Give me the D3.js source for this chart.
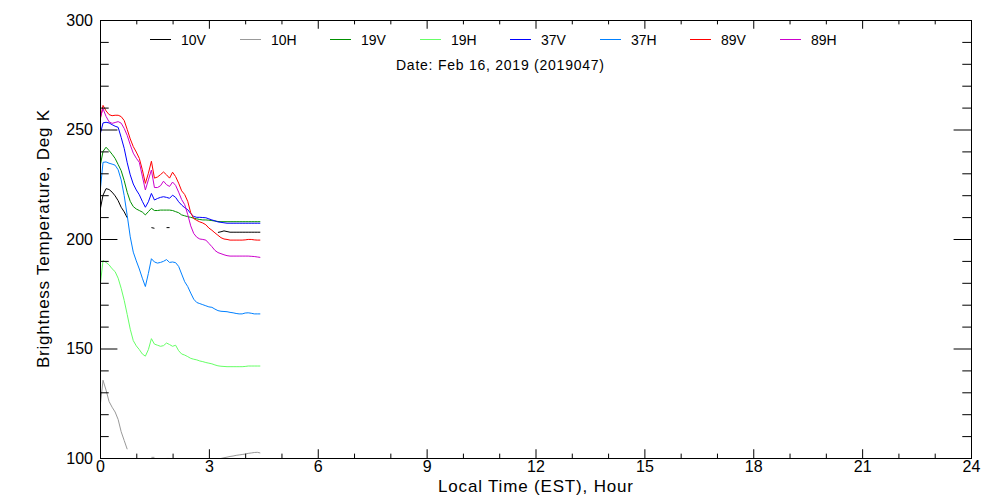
<!DOCTYPE html>
<html>
<head>
<meta charset="utf-8">
<script src="https://cdn.jsdelivr.net/npm/d3@7"></script>
<style>
  body { margin: 0; background: #fff; }
  svg { display: block; }
  text { font-family: "Liberation Sans", Arial, sans-serif; fill: #000; }
</style>
</head>
<body>
<svg id="chart" width="1000" height="500"></svg>
<script>
// channel names + colours
const channels = ["10V", "10H", "19V", "19H", "37V", "37H", "89V", "89H"]
const colors = ["#000000", "#999999", "#009000", "#66ff66", "#0000ff", "#0080ff", "#ff0000", "#cc00cc"]

// sample times, minutes after midnight (EST)
const minutes = [0, 5, 10, 15, 20, 25, 30, 35, 40, 45, 50, 55, 60, 65, 70, 75, 80, 85,
  90, 95, 100, 105, 110, 115, 120, 125, 130, 135, 140, 145, 150, 155, 160, 165, 170, 175,
  180, 185, 190, 195, 200, 205, 210, 215, 220, 225, 230, 235, 240, 245, 250, 255, 260, 265]

// brightness temperatures (K), null = no data
const tb10V = [213, 220, 223, 222.6, 221.4, 219.7, 217.5, 214.5, 212.4, 209.7,
  null, null, null, null, null, null, null, 205.2, 204.9, null, null, null, 205.2, 205.2,
  null, null, null, null, null, null, null, null, null, null, null, null, null, null, null,
  203, 203.3, 203.7, 203.4, 203.1, 203.1, 203.1, 203.1, 203.1, 203.1, 203.1, 203.1, 203.1, 203.1, 203.1]
const tb10H = [123, 135.5, 131, 125.8, 123.2, 121, 117.6, 112, 108, 104,
  null, null, null, null, null, null, null, 100.3, 100.3, null, null, null, 99.8, 99.8,
  null, null, null, null, null, null, null, null, null, null, null, null, null, null, null,
  99.5, 99.8, 100.1, 100.4, 100.7, 100.9, 101.2, 101.4, 101.6, 101.8, 102.1, 102.3, 102.5, 102.6, 102.3]
const tb19V = [233, 240, 241.9, 240.4, 238.7, 236.8, 234, 231.2, 226.7, 221.3,
  217.2, 214.8, 213.7, 213, 212.3, 211, 212.5, 214, 213, 213, 213.2, 213.2, 213.2, 213.2,
  213, 212.5, 212, 211, 210.6, 210.2, 209.9, 209.5, 209.2, 208.9, 208.7, 208.7, 208.6, 208.4, 208.2,
  208, 207.9, 207.9, 207.9, 207.9, 207.9, 207.9, 207.9, 207.9, 207.9, 207.9, 207.9, 207.9, 207.9, 207.9]
const tb19H = [178, 190.2, 189.3, 188.2, 186.4, 185.1, 182.1, 177.5, 172, 165.5,
  158.8, 153.6, 151.2, 149.5, 147.5, 146.5, 149.5, 154.5, 152, 151.5, 151, 151.3, 152.5, 151.8,
  151, 151.5, 149, 147.5, 147, 146.3, 145.5, 145.1, 144.8, 144.3, 144, 143.6, 143.3, 143, 142.5,
  142.1, 141.9, 141.8, 141.7, 141.7, 141.7, 141.7, 141.7, 141.7, 141.8, 142, 142, 142, 142, 142]
const tb37V = [247.5, 253, 253.3, 253, 252.2, 251.5, 251, 246.4, 241.4, 234.8,
  229.3, 225.1, 222.4, 220.2, 217.2, 214.5, 217, 220.8, 217.8, 218.5, 219, 219.3, 219, 218.6,
  220, 219, 217, 215.5, 214.3, 213.4, 211.6, 210.3, 209.9, 209.9, 209.8, 209.7, 209.2, 208.7, 208.3,
  207.8, 207.6, 207.4, 207.2, 207.2, 207.2, 207.2, 207.2, 207.2, 207.2, 207.2, 207.2, 207.2, 207.2, 207.2]
const tb37H = [221, 235, 235.2, 234.6, 234.2, 233.7, 231.6, 227, 219.8, 210.7,
  201, 194, 190, 186.3, 182.1, 178.3, 184.3, 191, 189.5, 189, 189.3, 189.8, 190.6, 189.3,
  189.5, 189.2, 187.5, 184, 180.5, 178.3, 175.3, 172.5, 171, 170.5, 170, 169.5, 169, 168.8, 168,
  167.3, 167, 166.9, 166.8, 166.5, 166.3, 166, 165.8, 165.8, 166.2, 166.3, 166.1, 165.8, 165.8, 165.8]
const tb89V = [254, 261, 258.5, 256.8, 256.3, 256.5, 256.5, 255.9, 254.1, 250,
  245.7, 242.2, 239.7, 236.8, 231.6, 225.4, 230, 235.5, 227.8, 228.3, 229.4, 230.6, 229.3, 227.8,
  230.5, 228.5, 225.5, 222, 220.3, 217.2, 212, 209.3, 208.5, 207.8, 207.3, 206.5, 205, 204, 202.8,
  201.7, 200.6, 200, 199.8, 199.5, 199.5, 199.5, 199.5, 199.5, 199.6, 199.8, 199.8, 199.6, 199.5, 199.5]
const tb89H = [255, 259.5, 256, 253.5, 252.8, 253.2, 253.6, 252.9, 250.5, 247.3,
  243, 239.2, 236.9, 235, 228.7, 222.4, 227, 231.5, 223.5, 223.5, 224.3, 226.4, 224.8, 224,
  226, 224.5, 221.4, 218, 215.7, 211.2, 206, 202.5, 200.8, 200, 199.8, 199.5, 198, 196.5, 194.8,
  193.8, 193.3, 192.8, 192.4, 192.2, 192.2, 192.2, 192.2, 192.2, 192.2, 192.2, 192.1, 192, 191.8, 191.6]

const series = [tb10V, tb10H, tb19V, tb19H, tb37V, tb37H, tb89V, tb89H]

// axis stuff
const xMajor = [0, 3, 6, 9, 12, 15, 18, 21, 24]
const xMinor = [1, 2, 4, 5, 7, 8, 10, 11, 13, 14, 16, 17, 19, 20, 22, 23]
const yMajor = [100, 150, 200, 250, 300]
const yMinor = [110, 120, 130, 140, 160, 170, 180, 190, 210, 220, 230, 240, 260, 270, 280, 290]

const dateLabel = "Date: Feb 16, 2019 (2019047)"

// plot box in pixels (note: "top" is taken by window.top)
const boxL = 100, boxR = 971, boxT = 20, boxB = 458

const x = d3.scaleLinear().domain([0, 24]).range([boxL, boxR])
const y = d3.scaleLinear().domain([100, 300]).range([boxB, boxT])

const svg = d3.select("#chart")

svg.append("defs").append("clipPath").attr("id", "plotclip")
  .append("rect")
  .attr("x", boxL).attr("y", boxT)
  .attr("width", boxR - boxL).attr("height", boxB - boxT)

// data lines
const line = d3.line()
  .defined(d => d[1] != null)
  .x(d => x(d[0] / 60))
  .y(d => y(d[1]))

svg.append("g")
  .attr("clip-path", "url(#plotclip)")
  .selectAll("path")
  .data(series)
  .join("path")
  .attr("fill", "none")
  .attr("stroke", (d, i) => colors[i])
  .attr("stroke-width", 1)
  .attr("d", d => line(d.map((v, i) => [minutes[i], v])))

// axes, IDL style: ticks point inwards on all four sides
const yLen = 0.02 * (boxR - boxL), xLen = 0.02 * (boxB - boxT)

const styleAxis = g => {
  g.select(".domain").remove()
  g.selectAll("line").attr("stroke", "#000")
  g.selectAll("text").attr("font-family", "Liberation Sans, Arial, sans-serif").attr("font-size", 16).attr("fill", "#000")
}

svg.append("g").attr("transform", `translate(0,${boxB})`)
  .call(d3.axisBottom(x).tickValues(xMajor).tickSize(-xLen).tickPadding(3).tickFormat(d3.format("d")))
  .call(styleAxis)
svg.append("g").attr("transform", `translate(0,${boxB})`)
  .call(d3.axisBottom(x).tickValues(xMinor).tickSize(-xLen / 2).tickFormat(""))
  .call(styleAxis)
svg.append("g").attr("transform", `translate(0,${boxT})`)
  .call(d3.axisTop(x).tickValues(xMajor).tickSize(-xLen).tickFormat(""))
  .call(styleAxis)
svg.append("g").attr("transform", `translate(0,${boxT})`)
  .call(d3.axisTop(x).tickValues(xMinor).tickSize(-xLen / 2).tickFormat(""))
  .call(styleAxis)

svg.append("g").attr("transform", `translate(${boxL},0)`)
  .call(d3.axisLeft(y).tickValues(yMajor).tickSize(-yLen).tickPadding(7).tickFormat(d3.format("d")))
  .call(styleAxis)
svg.append("g").attr("transform", `translate(${boxL},0)`)
  .call(d3.axisLeft(y).tickValues(yMinor).tickSize(-yLen / 2).tickFormat(""))
  .call(styleAxis)
svg.append("g").attr("transform", `translate(${boxR},0)`)
  .call(d3.axisRight(y).tickValues(yMajor).tickSize(-yLen).tickFormat(""))
  .call(styleAxis)
svg.append("g").attr("transform", `translate(${boxR},0)`)
  .call(d3.axisRight(y).tickValues(yMinor).tickSize(-yLen / 2).tickFormat(""))
  .call(styleAxis)

// frame
svg.append("rect")
  .attr("x", boxL + 0.5).attr("y", boxT + 0.5)
  .attr("width", boxR - boxL).attr("height", boxB - boxT)
  .attr("fill", "none").attr("stroke", "#000")

// axis titles
svg.append("text")
  .attr("x", (boxL + boxR) / 2).attr("y", 492)
  .attr("text-anchor", "middle")
  .attr("font-size", 17)
  .attr("textLength", 195)
  .text("Local Time (EST), Hour")

svg.append("text")
  .attr("transform", `translate(49,${(boxT + boxB) / 2}) rotate(-90)`)
  .attr("text-anchor", "middle")
  .attr("font-size", 17)
  .attr("textLength", 258)
  .text("Brightness Temperature, Deg K")

// legend
const legend = svg.append("g").selectAll("g")
  .data(channels)
  .join("g")
  .attr("transform", (d, i) => `translate(${150 + i * 90},40)`)

legend.append("line")
  .attr("x1", 0).attr("x2", 21)
  .attr("y1", -0.5).attr("y2", -0.5)
  .attr("stroke", (d, i) => colors[i])

legend.append("text")
  .attr("x", 31).attr("y", 5)
  .attr("font-size", 14)
  .text(d => d)

svg.append("text")
  .attr("x", 500).attr("y", 70)
  .attr("text-anchor", "middle")
  .attr("font-size", 14)
  .attr("textLength", 208)
  .text(dateLabel)
</script>
</body>
</html>
